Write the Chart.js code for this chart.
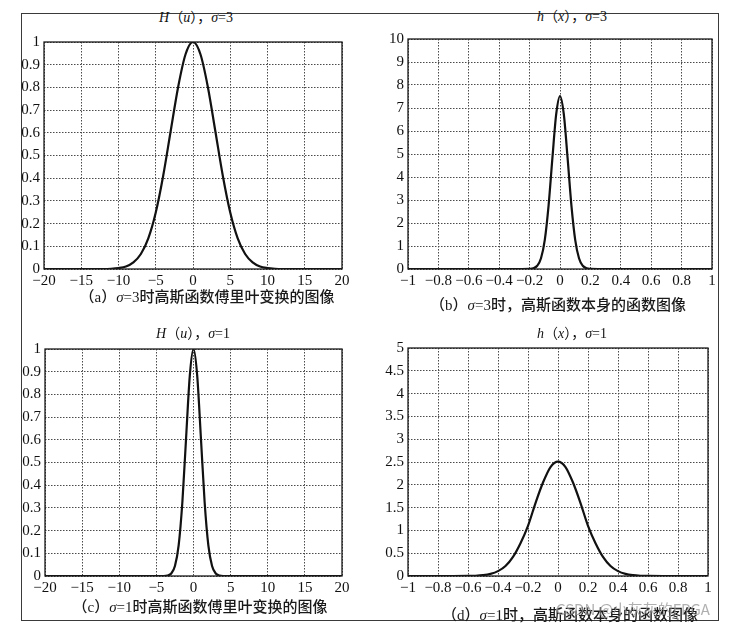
<!DOCTYPE html>
<html>
<head>
<meta charset="utf-8">
<script src="https://cdn.jsdelivr.net/npm/chart.js@4"></script>
<style>
  body { margin: 0; background: #fff; width: 748px; height: 629px; position: relative; overflow: hidden; }
  .frame { position: absolute; left: 21px; top: 13px; width: 698px; height: 608px; border: 1.5px solid #3a3a3a; box-sizing: border-box; }
  .box { position: absolute; }
  .t { position: absolute; transform: translate(-50%, -50%); white-space: nowrap; font-size: 14px; color: #111;
       font-family: "Liberation Serif", "Noto Sans CJK SC", serif; }
  .cap { font-size: 15px; font-weight: 500; color: #1a1a1a; }
  .wm { position: absolute; left: 556px; top: 598px; font-family: "Noto Sans CJK SC", "Noto Sans", sans-serif;
        font-size: 15px; color: rgba(150,150,150,0.75); white-space: nowrap; }
</style>
</head>
<body>
<div class="frame"></div>

<div class="box" style="left:4px;top:29px"><canvas id="cA" width="352" height="264"></canvas></div>
<div class="box" style="left:368px;top:26px"><canvas id="cB" width="358" height="267"></canvas></div>
<div class="box" style="left:5px;top:336px"><canvas id="cC" width="351" height="264"></canvas></div>
<div class="box" style="left:368px;top:335px"><canvas id="cD" width="354" height="265"></canvas></div>

<div class="t" style="left:196px;top:16px"><i>H</i>（<i>u</i>），<i>σ</i>=3</div>
<div class="t" style="left:572px;top:15px"><i>h</i>（<i>x</i>），<i>σ</i>=3</div>
<div class="t" style="left:193px;top:332px"><i>H</i>（<i>u</i>），<i>σ</i>=1</div>
<div class="t" style="left:572px;top:332px"><i>h</i>（<i>x</i>），<i>σ</i>=1</div>

<div class="t cap" style="left:207px;top:295px">（a）<i>σ</i>=3时高斯函数傅里叶变换的图像</div>
<div class="t cap" style="left:558px;top:303px">（b）<i>σ</i>=3时，高斯函数本身的函数图像</div>
<div class="t cap" style="left:200px;top:605px">（c）<i>σ</i>=1时高斯函数傅里叶变换的图像</div>
<div class="t cap" style="left:570px;top:613px">（d）<i>σ</i>=1时，高斯函数本身的函数图像</div>

<div class="wm">CSDN @小灰灰的FPGA</div>

<script>
// (a) H(u), sigma = 3
var uA = [-20, -12, -11, -10, -9, -8, -7, -6, -5, -4, -3, -2, -1, 0, 1, 2, 3, 4, 5, 6, 7, 8, 9, 10, 11, 12, 20];
var HA = [0, 0, 0.001, 0.004, 0.011, 0.029, 0.066, 0.135, 0.249, 0.411, 0.607, 0.801, 0.946, 1,
          0.946, 0.801, 0.607, 0.411, 0.249, 0.135, 0.066, 0.029, 0.011, 0.004, 0.001, 0, 0];

// (b) h(x), sigma = 3
var xB = [-1, -0.25, -0.2, -0.175, -0.15, -0.125, -0.1, -0.075, -0.05, -0.025, 0,
          0.025, 0.05, 0.075, 0.1, 0.125, 0.15, 0.175, 0.2, 0.25, 1];
var hB = [0, 0, 0.006, 0.03, 0.14, 0.47, 1.27, 2.77, 4.82, 6.73, 7.52,
          6.73, 4.82, 2.77, 1.27, 0.47, 0.14, 0.03, 0.006, 0, 0];

// (c) H(u), sigma = 1
var uC = [-20, -4, -3.5, -3, -2.5, -2, -1.5, -1, -0.5, 0, 0.5, 1, 1.5, 2, 2.5, 3, 3.5, 4, 20];
var HC = [0, 0, 0.002, 0.011, 0.044, 0.135, 0.325, 0.607, 0.882, 1, 0.882, 0.607, 0.325, 0.135, 0.044, 0.011, 0.002, 0, 0];

// (d) h(x), sigma = 1
var xD = [-1, -0.7, -0.6, -0.55, -0.5, -0.45, -0.4, -0.35, -0.3, -0.25, -0.2, -0.15, -0.1, -0.05, 0,
          0.05, 0.1, 0.15, 0.2, 0.25, 0.3, 0.35, 0.4, 0.45, 0.5, 0.55, 0.6, 0.7, 1];
var hD = [0, 0, 0.002, 0.006, 0.018, 0.046, 0.107, 0.22, 0.42, 0.72, 1.1, 1.6, 2.05, 2.39, 2.51,
          2.39, 2.05, 1.6, 1.1, 0.72, 0.42, 0.22, 0.107, 0.046, 0.018, 0.006, 0.002, 0, 0];

// tick values
var ticksU = [-20, -15, -10, -5, 0, 5, 10, 15, 20];
var ticksX = [-1, -0.8, -0.6, -0.4, -0.2, 0, 0.2, 0.4, 0.6, 0.8, 1];
var ticksH = [0, 0.1, 0.2, 0.3, 0.4, 0.5, 0.6, 0.7, 0.8, 0.9, 1];
var ticksB = [0, 1, 2, 3, 4, 5, 6, 7, 8, 9, 10];
var ticksD = [0, 0.5, 1, 1.5, 2, 2.5, 3, 3.5, 4, 4.5, 5];

var tickFont = { family: "'Liberation Serif', serif", size: 15 };

function fmt(v) {
    var s = String(+v.toFixed(2));
    return s.charAt(0) == "-" ? "\u2212" + s.slice(1) : s;
}

var boxPlugin = {
    id: "box",
    afterDraw: function(chart) {
        var a = chart.chartArea, c = chart.ctx;
        c.save();
        c.strokeStyle = "#1a1a1a";
        c.lineWidth = 1.3;
        c.strokeRect(a.left, a.top, a.right - a.left, a.bottom - a.top);
        c.restore();
    }
};

function axis(ticks, isX) {
    return {
        type: "linear",
        min: ticks[0],
        max: ticks[ticks.length - 1],
        afterBuildTicks: function(s) { s.ticks = ticks.map(function(v) { return { value: v }; }); },
        afterFit: function(s) { if (isX) s.height = 24; else s.width = 40; },
        grid: { color: "#4a4a4a", lineWidth: 1, drawTicks: false },
        border: { display: false, dash: [1.5, 1.5] },
        ticks: {
            autoSkip: false, maxRotation: 0, padding: isX ? 3 : 4,
            color: "#111", font: tickFont,
            callback: function(v) { return fmt(v); }
        }
    };
}

function makeChart(id, xs, ys, xTicks, yTicks) {
    var pts = xs.map(function(x, i) { return { x: x, y: ys[i] }; });
    return new Chart(document.getElementById(id), {
        type: "line",
        data: {
            datasets: [{
                data: pts,
                borderColor: "#111",
                borderWidth: 2.2,
                pointRadius: 0,
                cubicInterpolationMode: "monotone",
                fill: false
            }]
        },
        options: {
            responsive: false,
            animation: false,
            layout: { padding: { top: 10, right: 14, left: 0, bottom: 0 } },
            plugins: { legend: { display: false }, tooltip: { enabled: false } },
            scales: { x: axis(xTicks, true), y: axis(yTicks, false) }
        },
        plugins: [boxPlugin]
    });
}

makeChart("cA", uA, HA, ticksU, ticksH);
makeChart("cB", xB, hB, ticksX, ticksB);
makeChart("cC", uC, HC, ticksU, ticksH);
makeChart("cD", xD, hD, ticksX, ticksD);
</script>
</body>
</html>
